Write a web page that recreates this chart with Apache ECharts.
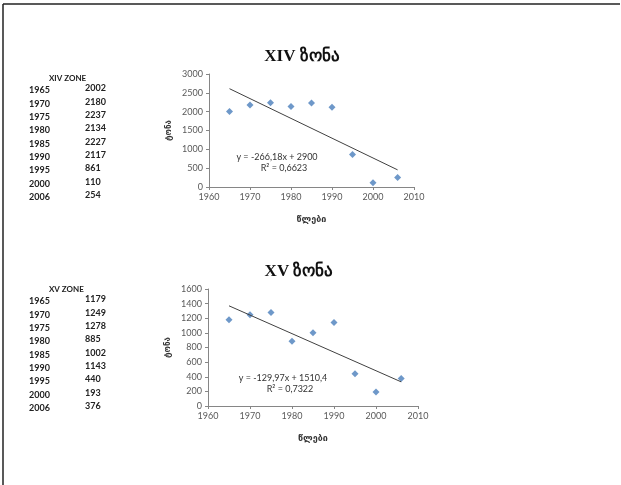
<!DOCTYPE html>
<html>
<head>
<meta charset="utf-8">
<script src="https://cdn.jsdelivr.net/npm/echarts@6/dist/echarts.min.js"></script>
<style>
  html, body { margin: 0; padding: 0; background: #fff; }
  #chart { width: 621px; height: 485px; }
</style>
</head>
<body>
<div id="chart"></div>
<script>
// მონაცემები (ზონები)
const years  = [1965, 1970, 1975, 1980, 1985, 1990, 1995, 2000, 2006]
const zone14 = [2002, 2180, 2237, 2134, 2227, 2117, 861, 110, 254]
const zone15 = [1179, 1249, 1278, 885, 1002, 1143, 440, 193, 376]

// ტრენდის ხაზის ბოლოები (სურათიდან წაკითხული)
const trendYears = [1965, 2006]
const trend14    = [2610, 455]
const trend15    = [1370, 330]

const eq14 = ['y = -266,18x + 2900', 'R² = 0,6623']
const eq15 = ['y = -129,97x + 1510,4', 'R² = 0,7322']

const chart = echarts.init(document.getElementById('chart'))

const tickFont = { fontFamily: 'Lato', fontSize: 9, color: '#595959' }
const blue = '#4a7ebb'

function xAxisCfg(gridIndex) {
  return {
    type: 'value', gridIndex, min: 1960, max: 2010, interval: 10,
    name: 'წლები', nameLocation: 'middle', nameGap: 28,
    nameTextStyle: { fontFamily: 'DejaVu Sans', fontSize: 9, fontWeight: 'bold', color: '#333' },
    axisLine: { show: true, lineStyle: { color: '#868686' } },
    axisTick: { show: true, length: 3, lineStyle: { color: '#868686' } },
    axisLabel: { ...tickFont, margin: 6, formatter: v => String(v) },
    splitLine: { show: false }
  }
}

function yAxisCfg(gridIndex, max, interval) {
  return {
    type: 'value', gridIndex, min: 0, max, interval,
    name: 'ტონა', nameLocation: 'middle', nameGap: 36, nameRotate: 90,
    nameTextStyle: { fontFamily: 'DejaVu Sans', fontSize: 8, fontWeight: 'bold', color: '#333' },
    axisLine: { show: true, lineStyle: { color: '#868686' } },
    axisTick: { show: true, length: 3, lineStyle: { color: '#868686' } },
    axisLabel: { ...tickFont, margin: 6, formatter: v => String(v) },
    splitLine: { show: false }
  }
}

// მარცხენა ცხრილები
function tableText(title, vals, top) {
  const els = [{
    type: 'text', left: 49, top,
    style: { text: title, font: 'bold 8px Lato', fill: '#222' }
  }]
  years.forEach((y, i) => {
    els.push({ type: 'text', left: 29, top: top + 12 + i * 13.3,
      style: { text: String(y), font: 'bold 9px Lato', fill: '#222' } })
    els.push({ type: 'text', left: 85, top: top + 10 + i * 13.3,
      style: { text: String(vals[i]), font: 'bold 9px Lato', fill: '#222' } })
  })
  return els
}

function eqText(lines, x, y) {
  return lines.map((t, i) => ({
    type: 'text', x: x + (i ? 7 : 0), y: y + i * 11,
    style: { text: t, font: '9px Lato', fill: '#333', textAlign: 'center', textVerticalAlign: 'middle' }
  }))
}

chart.setOption({
  animation: false,
  title: [
    { text: 'XIV ზონა', left: 297, top: 43, textAlign: 'center',
      textStyle: { fontFamily: 'Liberation Serif', fontSize: 17, fontWeight: 'bold', color: '#111' } },
    { text: 'XV ზონა', left: 294, top: 258, textAlign: 'center',
      textStyle: { fontFamily: 'Liberation Serif', fontSize: 17, fontWeight: 'bold', color: '#111' } }
  ],
  grid: [
    { left: 209, top: 74, width: 205, height: 113 },
    { left: 208, top: 289, width: 210, height: 117 }
  ],
  xAxis: [xAxisCfg(0), xAxisCfg(1)],
  yAxis: [yAxisCfg(0, 3000, 500), yAxisCfg(1, 1600, 200)],
  series: [
    { type: 'scatter', xAxisIndex: 0, yAxisIndex: 0, symbol: 'diamond', symbolSize: 7,
      itemStyle: { color: blue }, data: years.map((y, i) => [y, zone14[i]]) },
    { type: 'line', xAxisIndex: 0, yAxisIndex: 0, symbol: 'none',
      lineStyle: { color: '#404040', width: 1 }, data: trendYears.map((y, i) => [y, trend14[i]]) },
    { type: 'scatter', xAxisIndex: 1, yAxisIndex: 1, symbol: 'diamond', symbolSize: 7,
      itemStyle: { color: blue }, data: years.map((y, i) => [y, zone15[i]]) },
    { type: 'line', xAxisIndex: 1, yAxisIndex: 1, symbol: 'none',
      lineStyle: { color: '#404040', width: 1 }, data: trendYears.map((y, i) => [y, trend15[i]]) }
  ],
  graphic: [
    // ჩარჩო
    { type: 'line', shape: { x1: 3, y1: 4, x2: 620, y2: 4 }, style: { stroke: '#222', lineWidth: 1.5 } },
    { type: 'line', shape: { x1: 3, y1: 4, x2: 3, y2: 485 }, style: { stroke: '#222', lineWidth: 1.5 } },
    ...tableText('XIV ZONE', zone14, 74),
    ...tableText('XV ZONE', zone15, 285),
    ...eqText(eq14, 277, 157),
    ...eqText(eq15, 283, 378)
  ]
})
</script>
</body>
</html>
